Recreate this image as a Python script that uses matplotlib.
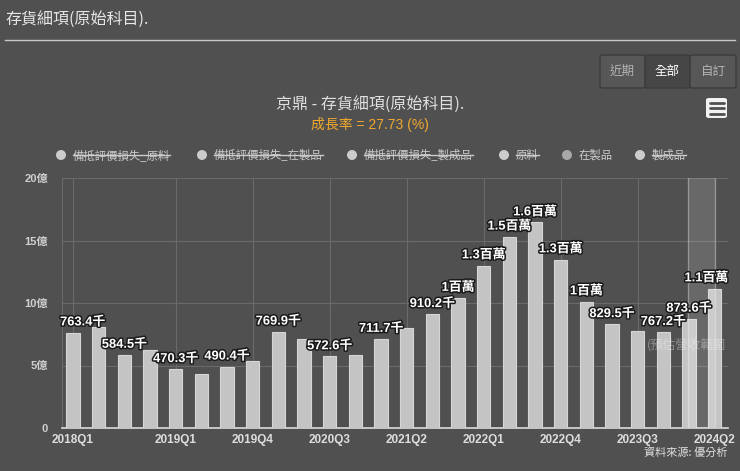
import matplotlib
matplotlib.use("Agg")
import matplotlib.pyplot as plt
import matplotlib.patheffects as pe
from matplotlib.patches import FancyBboxPatch, Circle
from matplotlib.lines import Line2D

plt.rcParams["font.family"] = ["Noto Sans CJK TC", "DejaVu Sans"]
LAT = ["Liberation Sans", "Noto Sans CJK TC"]

# 在製品 (千)
quarters = ["2018Q1", "2018Q2", "2018Q3", "2018Q4", "2019Q1", "2019Q2", "2019Q3",
            "2019Q4", "2020Q1", "2020Q2", "2020Q3", "2020Q4", "2021Q1", "2021Q2",
            "2021Q3", "2021Q4", "2022Q1", "2022Q2", "2022Q3", "2022Q4", "2023Q1",
            "2023Q2", "2023Q3", "2023Q4", "2024Q1", "2024Q2"]
wip = [763.4, 812, 584.5, 625, 470.3, 433, 490.4, 535, 769.9, 714, 572.6, 588,
       711.7, 801, 910.2, 1040, 1300, 1530, 1644, 1348, 1012, 829.5, 775, 767.2,
       873.6, 1116]
hidden_labels = [1, 3, 5, 7, 9, 11, 13, 22]
tick_idx = [0, 4, 7, 10, 13, 16, 19, 22, 25]
yticks = [0, 5, 10, 15, 20]
legend_names = ["備抵評價損失_原料", "備抵評價損失_在製品", "備抵評價損失_製成品",
                "原料", "在製品", "製成品"]
legend_hidden = [True, True, True, True, False, True]

BG = "#505050"
W, H = 740, 471


def px(x, y):
    return x / W, 1 - y / H


fig = plt.figure(figsize=(W / 100, H / 100), dpi=100, facecolor=BG)

# page header
fig.text(*px(5, 19), "存貨細項(原始科目).", color="#e6e6e6", fontsize=11.5,
         va="center", ha="left")
fig.add_artist(Line2D([5 / W, 735 / W], [1 - 40 / H] * 2, color="#c8c8c8", lw=1))

# range buttons
btns = [("近期", 600, 645, False), ("全部", 645, 690, True), ("自訂", 690, 736, False)]
for lbl, x0, x1, sel in btns:
    x, y = px(x0, 88)
    fig.add_artist(FancyBboxPatch((x, y), (x1 - x0) / W, 33 / H,
                                  boxstyle="round,pad=0,rounding_size=0.004",
                                  transform=fig.transFigure,
                                  facecolor="#464646" if sel else "#575757",
                                  edgecolor="#3c3c3c", lw=1))
    fig.text(*px((x0 + x1) / 2, 71), lbl, color="#ffffff" if sel else "#b4b4b4",
             fontsize=9, ha="center", va="center")

# menu icon
x, y = px(706, 118)
fig.add_artist(FancyBboxPatch((x, y), 21 / W, 20 / H,
                              boxstyle="round,pad=0,rounding_size=0.004",
                              transform=fig.transFigure, facecolor="#f2f2f2",
                              edgecolor="none"))
for yy in (102.5, 108, 113.5):
    fig.add_artist(Line2D([709.5 / W, 723.5 / W], [1 - yy / H] * 2,
                          color="#505050", lw=2, solid_capstyle="round"))

# chart titles
fig.text(*px(370, 104), "京鼎 - 存貨細項(原始科目).", color="#e0e0e0",
         fontsize=11.5, ha="center", va="center")
fig.text(*px(370, 124), "成長率 = 27.73 (%)", color="#f0a82c",
         fontsize=10, ha="center", va="center", family=LAT)

# legend
leg_x = [61, 202, 352, 504, 567, 640]
renderer = fig.canvas.get_renderer()
for name, cx, hid in zip(legend_names, leg_x, legend_hidden):
    fig.add_artist(Circle((cx, H - 155), 5, transform=None,
                          facecolor="#a8a8a8" if not hid else "#cccccc",
                          edgecolor="none"))
    t = fig.text(*px(cx + 12, 155), name, color="#cccccc", fontsize=8.2,
                 ha="left", va="center")
    if hid:
        bb = t.get_window_extent(renderer)
        ym = (bb.y0 + bb.y1) / 2
        fig.add_artist(Line2D([bb.x0, bb.x1], [ym, ym], transform=None,
                              color="#cccccc", lw=1))

# plot area
ax = fig.add_axes([62 / W, 43 / H, (728 - 62) / W, (428 - 178) / H])
ax.set_facecolor(BG)
xs = list(range(len(wip)))
vals = [v / 100 for v in wip]
ax.bar(xs, vals, width=0.52, color="#c4c4c4", edgecolor="#d6d6d6", lw=0.8,
       zorder=3)
ax.axvspan(23.95, 25.0, color="white", alpha=0.14, zorder=4, lw=0)
for xv in (23.95, 25.0):
    ax.axvline(xv, color="white", alpha=0.3, lw=1, zorder=4)
ax.text(25.45, 6.7, "(預估營收範圍", color="#ffffff",
        alpha=0.35, fontsize=9, ha="right", va="center", zorder=5)


def fmt(v):
    if v < 1000:
        return f"{v:.1f}千"
    s = f"{v / 1000:.1f}".rstrip("0").rstrip(".")
    return s + "百萬"


for i, v in enumerate(wip):
    if i in hidden_labels:
        continue
    dx = 7 if i == 0 else (-6 if i == len(wip) - 1 else 0)
    ax.annotate(fmt(v), (i, v / 100), xytext=(dx, 3),
                textcoords="offset points", ha="center", va="bottom",
                color="white", fontsize=9.3, fontweight="bold", zorder=6,
                family=LAT,
                path_effects=[pe.withStroke(linewidth=2.2, foreground="#1a1a1a")])

ax.set_xlim(-0.43, 25.52)
ax.set_ylim(0, 20)
ax.set_yticks(yticks)
ax.set_yticklabels(["0" if t == 0 else f"{t}億" for t in yticks],
                   color="#d0d0d0", fontsize=8, fontweight="bold", family=LAT)
ax.set_xticks(tick_idx)
ax.set_xticklabels([quarters[i] for i in tick_idx], color="#dddddd",
                   fontsize=8.5, fontweight="bold", family=LAT)
ax.tick_params(length=0, pad=10)
ax.tick_params(axis="x", pad=4)
ax.grid(True, color="#6a6a6a", lw=0.8, zorder=0)
ax.set_axisbelow(True)
for s in ("top", "right"):
    ax.spines[s].set_visible(False)
ax.spines["left"].set_color("#6a6a6a")
ax.spines["bottom"].set_color("#dcdcdc")
ax.spines["bottom"].set_linewidth(1.2)

fig.text(*px(728, 452), "資料來源: 優分析", color="#e0e0e0", fontsize=8,
         ha="right", va="center")

fig.savefig("out.png", dpi=100, facecolor=BG)
